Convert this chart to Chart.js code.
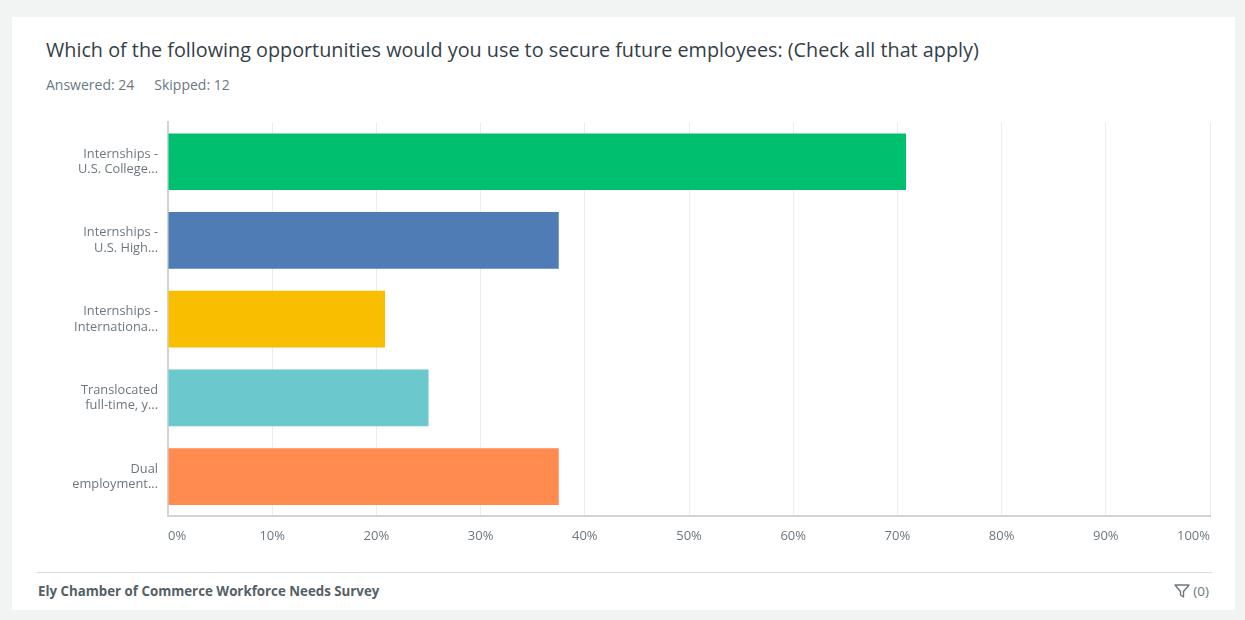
<!DOCTYPE html>
<html>
<head>
<meta charset="utf-8">
<script src="https://cdn.jsdelivr.net/npm/chart.js@4/dist/chart.umd.min.js"></script>
<style>
  body { margin:0; background:#f2f4f4; font-family:"Open Sans", sans-serif; }
  #card { position:absolute; left:12px; top:17px; width:1223px; height:593px; background:#fff; }
  #title { position:absolute; left:34px; top:19px; font-size:19.8px; color:#333e48; white-space:nowrap; }
  #meta { position:absolute; left:34px; top:58px; font-size:14px; color:#6b787f; }
  #meta span { margin-right:20px; }
  #wrap { position:absolute; left:28px; top:80px; width:1185px; height:463px; }
  #foot { position:absolute; left:25px; right:23px; top:555px; border-top:1px solid #d9dcdd; }
  #survey { position:absolute; left:26px; top:565px; font-size:13.3px; font-weight:bold; color:#555f66; }
  #filter { position:absolute; right:26px; top:565px; font-size:13.5px; color:#6b787f; }
</style>
</head>
<body>
<div id="card">
  <div id="title">Which of the following opportunities would you use to secure future employees: (Check all that apply)</div>
  <div id="meta"><span>Answered: 24</span><span>Skipped: 12</span></div>
  <div id="wrap"><canvas id="myChart"></canvas></div>
  <div id="foot"></div>
  <div id="survey">Ely Chamber of Commerce Workforce Needs Survey</div>
  <div id="filter"><svg width="16" height="16" viewBox="0 0 16 16" style="vertical-align:-3px"><path d="M1 2h14L9.5 8.5V14L6.5 12V8.5z" fill="none" stroke="#6b787f" stroke-width="1.4" stroke-linejoin="round"/></svg> (0)</div>
</div>
<script>
var labels = [
  ["Internships -", "U.S. College..."],
  ["Internships -", "U.S. High..."],
  ["Internships -", "Internationa..."],
  ["Translocated", "full-time, y..."],
  ["Dual", "employment..."]
];
var percents = [70.83, 37.50, 20.83, 25.00, 37.50];
var colors = ["#00bf6f", "#507cb6", "#f9be00", "#6bc8cd", "#ff8b4f"];

var ctx = document.getElementById("myChart");
var barGraph = new Chart(ctx, {
  type: "bar",
  data: {
    labels: labels,
    datasets: [{
      data: percents,
      backgroundColor: colors,
      borderWidth: 0,
      barPercentage: 0.72,
      categoryPercentage: 1
    }]
  },
  options: {
    indexAxis: "y",
    responsive: true,
    maintainAspectRatio: false,
    animation: false,
    layout: { padding: { top: 12, right: 15 } },
    plugins: { legend: { display: false }, tooltip: { enabled: false } },
    scales: {
      x: {
        min: 0, max: 100,
        ticks: {
          stepSize: 10,
          align: "inner",
          padding: 12,
          color: "#6b787f",
          font: { family: "Open Sans", size: 13 },
          callback: function(v){ return v + "%"; }
        },
        grid: { color: "#ebeded", drawTicks: false },
        border: { color: "#d0d4d6", width: 2 },
        afterFit: function(s){ s.height = 44; }
      },
      y: {
        ticks: {
          padding: 10,
          color: "#6b787f",
          font: { family: "Open Sans", size: 12.8 }
        },
        grid: { display: false, drawTicks: false },
        border: { color: "#d0d4d6", width: 2 },
        afterFit: function(s){ s.width = 128; }
      }
    }
  }
});
</script>
</body>
</html>
